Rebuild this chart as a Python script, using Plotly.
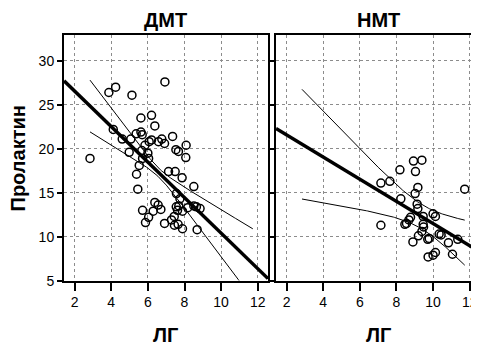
import numpy as np
import plotly.graph_objects as go

# ---- data ----
panel_titles = ["ДМТ", "НМТ"]
x_title = "ЛГ"
y_title = "Пролактин"
x_ticks = [2, 4, 6, 8, 10, 12]
y_ticks = [5, 10, 15, 20, 25, 30]

dmt_lh = [2.84, 3.87, 4.24, 5.13, 6.93, 5.62, 6.20, 6.38, 4.11, 4.60, 5.07, 5.36, 5.62, 5.69,
          4.98, 5.67, 6.00, 5.84, 6.07, 6.20, 6.58, 6.76, 6.91, 7.35, 7.53, 7.67, 8.09, 8.07,
          5.71, 6.04, 5.53, 5.38, 5.45, 7.13, 7.49, 7.87, 8.51, 7.56, 7.75, 6.38, 6.56, 6.71,
          6.29, 5.71, 6.04, 5.87, 6.91, 7.29, 7.44, 7.55, 7.69, 7.62, 7.89, 7.45, 7.65, 7.89,
          8.18, 8.51, 8.65, 8.85, 8.69]
dmt_prl = [18.9, 26.4, 27.0, 26.1, 27.6, 23.5, 23.8, 22.6, 22.2, 21.1, 21.1, 21.7, 21.9, 21.6,
           19.6, 19.8, 19.5, 20.4, 20.8, 21.0, 20.8, 21.1, 20.6, 21.4, 19.9, 19.7, 20.4, 19.0,
           18.9, 18.9, 18.1, 17.1, 15.4, 17.4, 17.4, 16.7, 15.7, 14.9, 14.3, 13.9, 13.6, 13.1,
           12.9, 13.0, 12.2, 11.6, 11.5, 11.9, 12.3, 13.4, 13.5, 13.0, 12.9, 11.3, 11.4, 10.9,
           13.3, 13.5, 13.4, 13.2, 10.8]

nmt_lh = [7.15, 7.15, 7.64, 8.19, 8.93, 9.39, 9.04, 9.17, 9.02, 8.24, 9.13, 9.17, 8.77, 8.68,
          8.55, 8.46, 9.46, 9.46, 9.48, 9.39, 9.20, 8.90, 9.71, 9.79, 10.00, 10.13, 10.33, 10.44,
          10.84, 11.35, 11.06, 9.73, 10.00, 10.13, 11.73]
nmt_prl = [11.3, 16.1, 16.3, 17.6, 18.6, 18.7, 17.4, 15.6, 14.9, 14.3, 13.7, 13.2, 12.2, 11.9,
           11.5, 11.4, 12.3, 11.4, 11.1, 10.6, 10.1, 9.4, 9.7, 9.8, 12.6, 12.3, 10.3, 10.2,
           9.3, 9.7, 8.0, 7.7, 7.9, 8.2, 15.4]

# linear fit and 95% CI of the mean (as drawn), per panel
fit_intercept = [30.6, 24.1]
fit_slope = [-2.02, -1.26]
ci_center = [6.6, 9.4]
ci_a = [0.25, 1.9]
ci_b = [0.595, 0.86]

x_ranges = [[1.42, 12.56], [1.42, 12.51]]
y_range = [5, 32.9]

# ---- figure ----
fig = go.Figure()
all_x = dmt_lh + nmt_lh
ci_x = np.linspace(min(all_x), max(all_x), 200)

panels = [(dmt_lh, dmt_prl), (nmt_lh, nmt_prl)]
for i, (xs, ys) in enumerate(panels):
    xa = "x" if i == 0 else "x2"
    ya = "y" if i == 0 else "y2"
    yhat = fit_intercept[i] + fit_slope[i] * ci_x
    half = np.sqrt(ci_a[i] + ci_b[i] * (ci_x - ci_center[i]) ** 2)
    for band in (yhat + half, yhat - half):
        fig.add_trace(go.Scatter(x=ci_x, y=band, mode="lines", xaxis=xa, yaxis=ya,
                                 line=dict(color="black", width=1), showlegend=False,
                                 hoverinfo="skip"))
    fx = np.array(x_ranges[i])
    fig.add_trace(go.Scatter(x=fx, y=fit_intercept[i] + fit_slope[i] * fx, mode="lines",
                             xaxis=xa, yaxis=ya, line=dict(color="black", width=3.5),
                             showlegend=False))
    fig.add_trace(go.Scatter(x=xs, y=ys, mode="markers", xaxis=xa, yaxis=ya,
                             marker=dict(symbol="circle-open", size=8, color="black",
                                         line=dict(width=1.5, color="black")),
                             showlegend=False))

# page body has an 8px margin; lay out in page pixels minus that offset
OFF = 8
W, H = 479 - OFF, 358 - OFF


def px(v):
    return (v - OFF) / W


def py(v):
    return (H - (v - OFF)) / H


font_family = "Liberation Sans, Arial, sans-serif"
grid = dict(showgrid=True, gridcolor="#8c8c8c", griddash="dot", gridwidth=1)
ydom = [py(287), py(36)]

common_x = dict(tickvals=x_ticks, ticks="outside", ticklen=8, tickwidth=2, tickcolor="black",
                showline=True, linecolor="black", linewidth=2, zeroline=False,
                tickfont=dict(size=14, color="black", family=font_family), **grid)
common_y = dict(tickvals=y_ticks, range=y_range, ticks="outside", ticklen=5, tickwidth=2,
                tickcolor="black", showline=True, linecolor="black", linewidth=2,
                zeroline=False, domain=ydom,
                tickfont=dict(size=14, color="black", family=font_family), **grid)

fig.update_layout(
    width=W, height=H,
    margin=dict(l=0, r=0, t=0, b=0),
    paper_bgcolor="white", plot_bgcolor="white",
    font=dict(family=font_family, color="black"),
    xaxis=dict(domain=[px(64), px(268)], range=x_ranges[0], anchor="y", mirror=True, **common_x),
    yaxis=dict(anchor="x", mirror=True, **common_y),
    xaxis2=dict(domain=[px(276), 1.0], range=x_ranges[1], anchor="y2", mirror=True, **common_x),
    yaxis2=dict(anchor="x2", showticklabels=False, **common_y),
)

centers = [165, 378]
for i in range(2):
    fig.add_annotation(text="<b>%s</b>" % panel_titles[i], x=px(centers[i]), y=1.0,
                       xref="paper", yref="paper", xanchor="center", yanchor="top",
                       borderpad=0, showarrow=False,
                       font=dict(size=20, color="black", family=font_family))
    fig.add_annotation(text="<b>%s</b>" % x_title, x=px(centers[i]), y=py(343),
                       xref="paper", yref="paper", xanchor="center", yanchor="middle",
                       showarrow=False, font=dict(size=20, color="black", family=font_family))
fig.add_annotation(text="<b>%s</b>" % y_title, x=px(18), y=py(162), xref="paper",
                   yref="paper", xanchor="center", yanchor="middle", textangle=-90,
                   showarrow=False, font=dict(size=20, color="black", family=font_family))

fig.write_html("out.html")
